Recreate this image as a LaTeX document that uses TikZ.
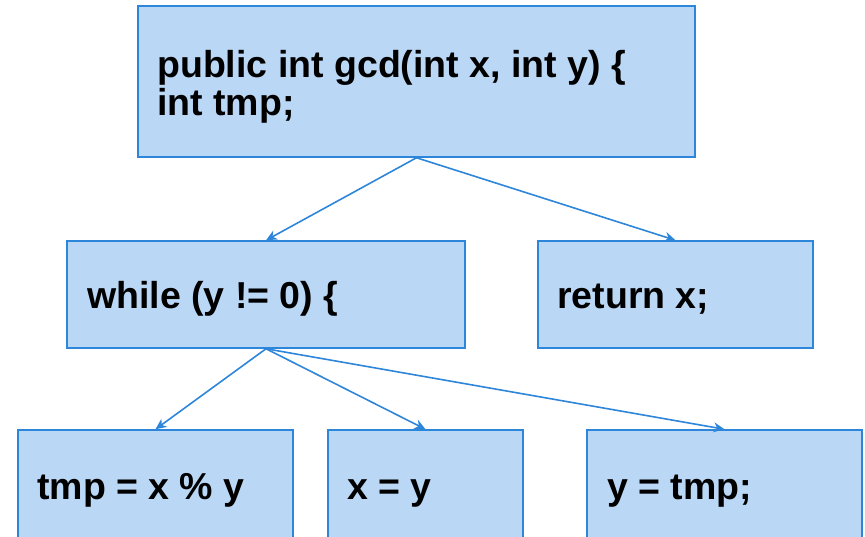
\documentclass[tikz,border=0pt]{standalone}
\usepackage{fontspec}
\setmainfont{Liberation Sans}
\usetikzlibrary{arrows.meta}
\definecolor{boxfill}{HTML}{BAD7F5}
\definecolor{boxline}{HTML}{2E86DA}
\tikzset{
  box/.style={draw=boxline, fill=boxfill, line width=1.5pt, rectangle, inner sep=0pt},
  code/.style={anchor=base west, align=left, inner sep=0pt, font=\fontsize{37.5}{38}\selectfont\bfseries},
  conn/.style={draw=boxline, line width=1.6pt, -{Stealth[length=11pt,width=10pt]}}
}
\begin{document}
\begin{tikzpicture}[x=1pt,y=-1pt]
\useasboundingbox (0,0) rectangle (865,536);
\clip (0,0) rectangle (865,536);
\node[box, minimum width=557, minimum height=151] (top) at (416.5,81.5) {};
\node[box, minimum width=398, minimum height=107] (while) at (266,294.5) {};
\node[box, minimum width=275, minimum height=107] (ret) at (675.5,294.5) {};
\node[box, minimum width=275, minimum height=120] (tmp) at (155.5,490) {};
\node[box, minimum width=195, minimum height=120] (xy) at (425.5,490) {};
\node[box, minimum width=275, minimum height=120] (ytmp) at (724.5,490) {};

\node[code] (ttop) at (157,115) {public int gcd(int x, int y) \{\\int tmp;};
\node[code] (twhile) at (87,308) {while (y != 0) \{};
\node[code] (tret) at (557,308) {return x;};
\node[code] (ttmp) at (37,499) {tmp = x \% y};
\node[code] (txy) at (347,499) {x = y};
\node[code] (tytmp) at (607,499) {y = tmp;};

\draw[conn] (top.south) -- (while.north);
\draw[conn] (top.south) -- (ret.north);
\draw[conn] (while.south) -- (tmp.north);
\draw[conn] (while.south) -- (xy.north);
\draw[conn] (while.south) -- (ytmp.north);
\end{tikzpicture}
\end{document}
